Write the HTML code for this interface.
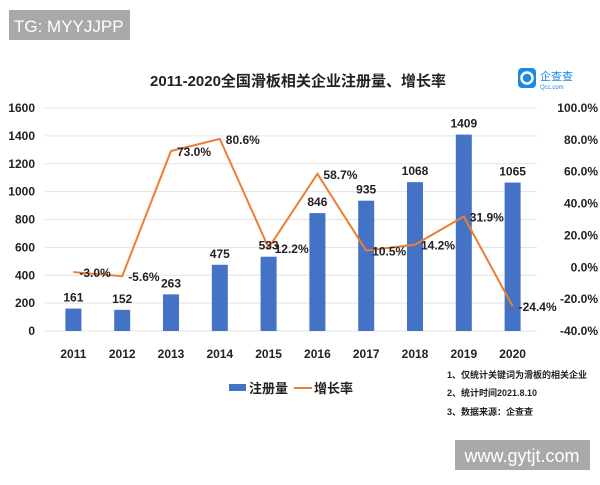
<!DOCTYPE html>
<html><head><meta charset="utf-8"><style>
body{margin:0;width:600px;height:480px;background:#fff;overflow:hidden;font-family:"Liberation Sans","Noto Sans CJK SC",sans-serif}
svg text{font-family:"Liberation Sans","Noto Sans CJK SC",sans-serif}
</style></head><body>
<svg id="c" width="600" height="480">
<rect x="9" y="10" width="121" height="30" fill="#a9a9a9"/>
<text x="14" y="32" font-size="17" fill="#fff">TG: MYYJJPP</text>
<text x="298" y="86" font-size="15" font-weight="bold" text-anchor="middle" fill="#222">2011-2020全国滑板相关企业注册量、增长率</text>
<g>
<rect x="518" y="68" width="18" height="20" rx="4" fill="#1e88e5"/>
<circle cx="527" cy="78" r="5.5" fill="none" stroke="#fff" stroke-width="2.5"/>
<text x="540" y="80" font-size="11" fill="#1e88e5">企查查</text>
<text x="540" y="89" font-size="6" fill="#1e88e5">Qcc.com</text>
</g>
<g id="grid"></g><g id="bars"></g><g id="line"></g><g id="labels"></g>
<g>
<rect x="229" y="384" width="17" height="7" fill="#4472c4"/>
<text x="249" y="393" font-size="13" font-weight="bold" fill="#222">注册量</text>
<line x1="294" y1="388" x2="312" y2="388" stroke="#ed7d31" stroke-width="2"/>
<text x="314" y="393" font-size="13" font-weight="bold" fill="#222">增长率</text>
</g>
<g font-size="9" font-weight="bold" fill="#222">
<text x="447" y="378">1、仅统计关键词为滑板的相关企业</text>
<text x="447" y="396">2、统计时间2021.8.10</text>
<text x="447" y="415">3、数据来源：企查查</text>
</g>
<rect x="455" y="440" width="135" height="30" fill="#a9a9a9"/>
<text x="522" y="462" font-size="18" fill="#fff" text-anchor="middle">www.gytjt.com</text>
</svg>
<script>
const years=["2011","2012","2013","2014","2015","2016","2017","2018","2019","2020"];
const counts=[161,152,263,475,533,846,935,1068,1409,1065];
const growth=[-3.0,-5.6,73.0,80.6,12.2,58.7,10.5,14.2,31.9,-24.4];
const leftTicks=[0,200,400,600,800,1000,1200,1400,1600];
const rightTicks=[-40,-20,0,20,40,60,80,100];
const NS="http://www.w3.org/2000/svg";
const plotTop=108,plotBot=331,x0=49,step=48.8;
const yL=v=>plotBot-(v/1600)*(plotBot-plotTop);
const yR=v=>plotBot-((v+40)/140)*(plotBot-plotTop);
const xC=i=>x0+step*(i+0.5);
function mk(tag,attrs,parent,txt){const e=document.createElementNS(NS,tag);for(const k in attrs)e.setAttribute(k,attrs[k]);if(txt!==undefined)e.textContent=txt;document.getElementById(parent).appendChild(e);return e;}
leftTicks.forEach(t=>{
 const l=mk('line',{x1:45,x2:537,y1:yL(t),y2:yL(t),stroke:'#e3e3e3','stroke-width':1},'grid');
 
 
 const tx=mk('text',{x:35,y:yL(t)+4,'font-size':12,'font-weight':'bold','text-anchor':'end',fill:'#222'},'grid',t);
 
 
});
rightTicks.forEach(t=>{
 const tx=mk('text',{x:598,y:yR(t)+4,'font-size':12,'font-weight':'bold','text-anchor':'end',fill:'#222'},'grid',t.toFixed(1)+'%');
 
 
});
years.forEach((y,i)=>{
 const tx=mk('text',{x:xC(i),y:358,'font-size':12,'font-weight':'bold','text-anchor':'middle',fill:'#222'},'grid',y);
 
 
 const b=mk('rect',{x:xC(i)-8,y:yL(counts[i]),width:16,height:plotBot-yL(counts[i]),fill:'#4472c4'},'bars');
 
 
 const bl=mk('text',{x:xC(i),y:yL(counts[i])-7,'font-size':12,'font-weight':'bold','text-anchor':'middle',fill:'#222'},'labels',counts[i]);
 
 
 const gl=mk('text',{x:xC(i)+6,y:yR(growth[i])+5,'font-size':12,'font-weight':'bold',fill:'#222'},'labels',growth[i].toFixed(1)+'%');
 
 
});
const p=mk('polyline',{points:growth.map((g,i)=>xC(i)+','+yR(g)).join(' '),fill:'none',stroke:'#ed7d31','stroke-width':2},'line');


</script>
</body></html>
